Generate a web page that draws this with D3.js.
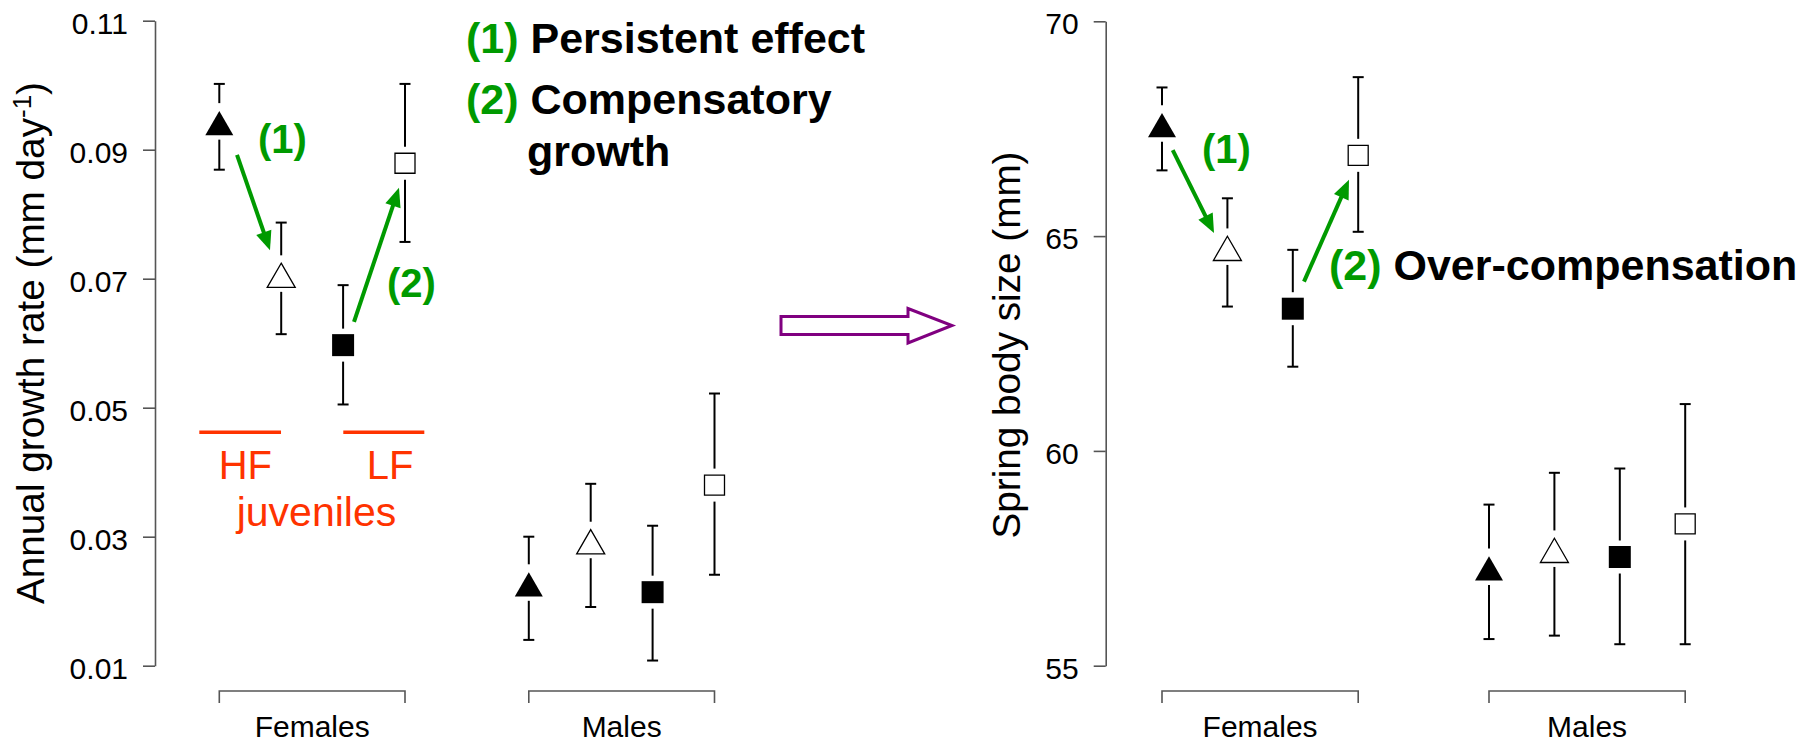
<!DOCTYPE html>
<html>
<head>
<meta charset="utf-8">
<script src="https://cdn.jsdelivr.net/npm/d3@7"></script>
<style>
  body { margin: 0; background: #fff; }
  svg { display: block; font-family: "Liberation Sans", Arial, sans-serif; }
</style>
</head>
<body>
<svg id="chart" width="1802" height="740"></svg>
<script>
// ---------------- data ----------------
const sexes = ["Females", "Males"];
const treatments = ["HF juv, filled", "HF juv, open", "LF juv, filled", "LF juv, open"];
const shapes = ["triangle", "triangle", "square", "square"];
const filled = [true, false, true, false];

// Annual growth rate (mm day-1): Females (4), then Males (4)
const growthMean  = [0.0935, 0.0699, 0.0597, 0.0879, 0.0220, 0.0286, 0.0214, 0.0380];
const growthUpper = [0.1002, 0.0787, 0.0690, 0.1002, 0.0300, 0.0382, 0.0317, 0.0522];
const growthLower = [0.0869, 0.0614, 0.0505, 0.0757, 0.0140, 0.0191, 0.0108, 0.0241];

// Spring body size (mm)
const bodyMean  = [67.49, 64.62, 63.31, 66.88, 57.17, 57.59, 57.53, 58.30];
const bodyUpper = [68.46, 65.88, 64.68, 68.70, 58.75, 59.49, 59.59, 61.09];
const bodyLower = [66.53, 63.36, 61.96, 65.10, 55.62, 55.70, 55.50, 55.50];

const growthTicks = [0.01, 0.03, 0.05, 0.07, 0.09, 0.11];
const bodyTicks = [55, 60, 65, 70];

// ---------------- setup ----------------
const svg = d3.select("#chart");
const GREEN = "#009a00", RED = "#ff3300", PURPLE = "#800080", AXIS = "#555";

// position index on x: sex*5 + treatment + 1  -> 1..4, 6..9
const posOf = i => Math.floor(i / 4) * 5 + (i % 4) + 1;

function panel(cfg) {
  const g = svg.append("g");
  const x = d3.scaleLinear().domain([1, 9]).range(cfg.xRange);
  const y = d3.scaleLinear().domain(cfg.yDomain).range(cfg.yRange);

  // y axis
  const ax = g.append("g")
    .attr("transform", `translate(${cfg.axisX},0)`)
    .call(d3.axisLeft(y).tickValues(cfg.ticks).tickSize(12).tickSizeOuter(0)
      .tickPadding(15).tickFormat(cfg.fmt));
  ax.select(".domain").attr("stroke", AXIS).attr("stroke-width", 1.6);
  ax.selectAll(".tick line").attr("stroke", AXIS).attr("stroke-width", 1.6);
  ax.selectAll(".tick text").attr("font-size", 30).attr("fill", "#000")
    .attr("font-family", "Liberation Sans, Arial, sans-serif").attr("dy", "0.42em");

  // group brackets + labels
  sexes.forEach((s, k) => {
    const x0 = x(k * 5 + 1), x1 = x(k * 5 + 4);
    g.append("path").attr("d", `M${x0},703V691H${x1}V703`)
      .attr("fill", "none").attr("stroke", AXIS).attr("stroke-width", 1.6);
    g.append("text").attr("x", (x0 + x1) / 2).attr("y", 736.5)
      .attr("text-anchor", "middle").attr("font-size", 30).text(s);
  });

  // points with error bars
  const data = cfg.mean.map((m, i) => ({ i, m, up: cfg.upper[i], lo: cfg.lower[i],
    shape: shapes[i % 4], filled: filled[i % 4], pos: posOf(i) }));

  const pts = g.selectAll("g.pt").data(data).join("g").attr("class", "pt");
  pts.each(function (d) {
    const p = d3.select(this);
    const cx = x(d.pos), cy = y(d.m);
    const gapUp = d.shape === "triangle" ? 24 : 16.5;
    const gapDn = d.shape === "triangle" ? 12.5 : 16.5;
    const yU = y(d.up), yL = y(d.lo);
    p.append("line").attr("x1", cx).attr("x2", cx).attr("y1", yU).attr("y2", cy - gapUp)
      .attr("stroke", "#000").attr("stroke-width", 2);
    p.append("line").attr("x1", cx).attr("x2", cx).attr("y1", cy + gapDn).attr("y2", yL)
      .attr("stroke", "#000").attr("stroke-width", 2);
    [yU, yL].forEach(yy => p.append("line").attr("x1", cx - 5.5).attr("x2", cx + 5.5)
      .attr("y1", yy).attr("y2", yy).attr("stroke", "#000").attr("stroke-width", 2));
    let sym;
    if (d.shape === "triangle") {
      const side = 28;
      sym = d3.symbol().type(d3.symbolTriangle).size(Math.sqrt(3) / 4 * side * side);
    } else {
      const side = d.filled ? 22 : 20;
      sym = d3.symbol().type(d3.symbolSquare).size(side * side);
    }
    p.append("path").attr("d", sym()).attr("transform", `translate(${cx},${cy})`)
      .attr("fill", d.filled ? "#000" : "#fff")
      .attr("stroke", "#000").attr("stroke-width", d.filled ? 0 : 1.3);
  });

  // y-axis title
  const t = g.append("text").attr("transform", `translate(${cfg.titleX},${cfg.titleY}) rotate(-90)`)
    .attr("text-anchor", "middle").attr("font-size", 38.7);
  cfg.title(t);

  // green arrows (data space)
  cfg.arrows.forEach(a => {
    const x1 = x(a[0]), y1 = y(a[1]), x2 = x(a[2]), y2 = y(a[3]);
    const dx = x2 - x1, dy = y2 - y1, L = Math.hypot(dx, dy);
    const ux = dx / L, uy = dy / L, hl = 19, hw = 8;
    const bx = x2 - ux * hl, by = y2 - uy * hl;
    g.append("line").attr("x1", x1).attr("y1", y1).attr("x2", bx + ux * 2).attr("y2", by + uy * 2)
      .attr("stroke", GREEN).attr("stroke-width", 4);
    g.append("path").attr("d", `M${x2},${y2}L${bx - uy * hw},${by + ux * hw}L${bx + uy * hw},${by - ux * hw}Z`)
      .attr("fill", GREEN);
  });
  return { x, y, g };
}

// ---------------- left panel ----------------
const L = panel({
  xRange: [219.3, 219.3 + 8 * 61.9], yDomain: [0.01, 0.11], yRange: [665.7, 20.7],
  axisX: 155, ticks: growthTicks, fmt: d3.format(".2f"),
  mean: growthMean, upper: growthUpper, lower: growthLower,
  titleX: 43.5, titleY: 343,
  title: t => {
    t.append("tspan").text("Annual growth rate (mm day");
    t.append("tspan").attr("font-size", 26).attr("dy", -13).text("-1");
    t.append("tspan").attr("dy", 13).text(")");
  },
  arrows: [[1.286, 0.0892, 1.819, 0.0744], [3.176, 0.0633, 3.903, 0.0841]]
});

// red HF / LF juveniles annotation
[[0.677, 1.997], [3.003, 4.312]].forEach(r => {
  L.g.append("line").attr("x1", L.x(r[0])).attr("x2", L.x(r[1]))
    .attr("y1", L.y(0.0462)).attr("y2", L.y(0.0462))
    .attr("stroke", RED).attr("stroke-width", 3.5);
});
L.g.append("text").attr("x", L.x(1.42)).attr("y", 479).attr("text-anchor", "middle")
  .attr("font-size", 40).attr("fill", RED).text("HF");
L.g.append("text").attr("x", L.x(3.76)).attr("y", 479).attr("text-anchor", "middle")
  .attr("font-size", 40).attr("fill", RED).text("LF");
L.g.append("text").attr("x", L.x(2.57)).attr("y", 526).attr("text-anchor", "middle")
  .attr("font-size", 41).attr("fill", RED).text("juveniles");

function boldText(x, y, size) {
  return svg.append("text").attr("x", x).attr("y", y)
    .attr("font-size", size).attr("font-weight", "bold");
}
boldText(258, 153, 40).attr("fill", GREEN).text("(1)");
boldText(387, 297, 40).attr("fill", GREEN).text("(2)");

// top notes
let t1 = boldText(466, 53, 43);
t1.append("tspan").attr("fill", GREEN).text("(1)");
t1.append("tspan").attr("fill", "#000").text(" Persistent effect");
let t2 = boldText(466, 114, 43);
t2.append("tspan").attr("fill", GREEN).text("(2)");
t2.append("tspan").attr("fill", "#000").text(" Compensatory");
boldText(527, 166, 43).attr("fill", "#000").text("growth");

// purple hollow arrow between panels
svg.append("path")
  .attr("d", "M781,316.5H908V308.5L952,325.5L908,343V334.5H781Z")
  .attr("fill", "#fff").attr("stroke", PURPLE).attr("stroke-width", 3)
  .attr("stroke-linejoin", "miter");

// ---------------- right panel ----------------
const R = panel({
  xRange: [1162, 1162 + 8 * 65.4], yDomain: [55, 70], yRange: [665.7, 21.3],
  axisX: 1105.7, ticks: bodyTicks, fmt: d3.format("d"),
  mean: bodyMean, upper: bodyUpper, lower: bodyLower,
  titleX: 1020, titleY: 345,
  title: t => t.text("Spring body size (mm)"),
  arrows: [[1.164, 67.0, 1.795, 65.07], [3.171, 63.94, 3.859, 66.31]]
});
boldText(1202, 163, 40).attr("fill", GREEN).text("(1)");
let t3 = boldText(1329, 280, 43);
t3.append("tspan").attr("fill", GREEN).text("(2)");
t3.append("tspan").attr("fill", "#000").text(" Over-compensation");
</script>
</body>
</html>
